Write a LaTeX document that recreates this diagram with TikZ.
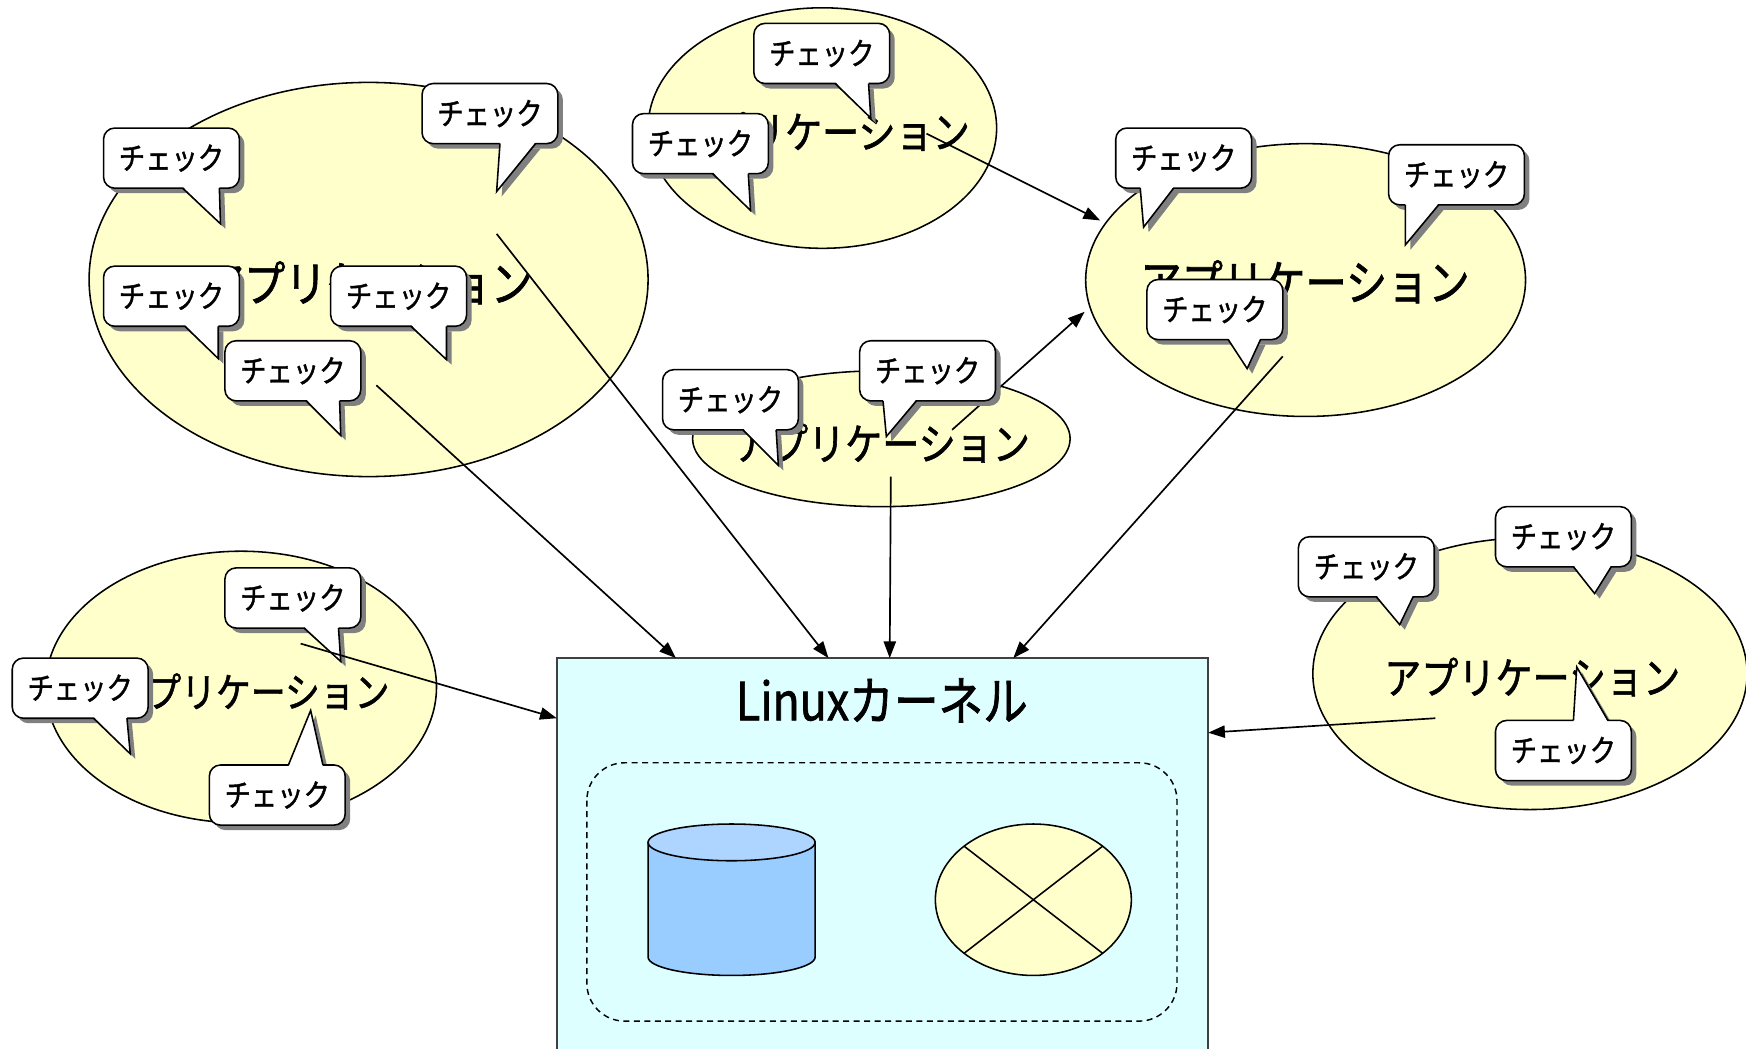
\documentclass[tikz,border=0pt]{standalone}
\usepackage{fontspec}
\newfontfamily\jpfont[FakeStretch=0.85,FakeBold=1.3]{Noto Sans CJK JP}
\usetikzlibrary{arrows.meta}
\definecolor{appfill}{HTML}{FFFFCC}
\definecolor{kernfill}{HTML}{DEFFFF}
\definecolor{cylbody}{HTML}{99CCFF}
\definecolor{cyltop}{HTML}{ADD5FF}
\definecolor{shadowgray}{HTML}{808080}
\definecolor{kernborder}{HTML}{404040}
\tikzset{
  app/.style={draw=black, fill=appfill, line width=0.7pt},
  appL/.style={inner sep=0pt, font={\jpfont\fontsize{21.8}{25}\selectfont}},
  appM/.style={inner sep=0pt, font={\jpfont\fontsize{19.6}{23}\selectfont}},
  appS/.style={inner sep=0pt, font={\jpfont\fontsize{18.4}{21}\selectfont}},
  kerntext/.style={inner sep=0pt, font={\jpfont\fontsize{23.6}{27}\selectfont}},
  chk/.style={inner sep=0pt, font={\jpfont\fontsize{13.9}{16}\selectfont}},
  bubbox/.style={draw=black, fill=white, line width=0.7pt, rounded corners=5pt},
  bubline/.style={draw=black, line width=0.7pt, line join=miter},
  shade/.style={fill=shadowgray},
  kernelbox/.style={draw=kernborder, fill=kernfill, line width=0.75pt},
  dashbox/.style={draw=black, dash pattern=on 2.7pt off 2pt, line width=0.65pt, rounded corners=17pt},
  cyl/.style={draw=black, line width=0.7pt},
  arr/.style={draw=black, line width=0.75pt, -{Triangle[length=7.5pt,width=5.5pt]}},
}
% bubble with tail at the bottom: name, left x, top y, tail base x1, x2, tip x, tip y
\newcommand{\bubD}[7]{%
  \begin{scope}[shift={(4.5,4.5)}]
    \fill[shade, rounded corners=5pt] (#2,#3) rectangle ++(122,54);
    \fill[shade] (#4,#3+54) -- (#5,#3+54) -- (#6,#7) -- cycle;
  \end{scope}
  \path[bubbox] (#2,#3) rectangle ++(122,54);
  \fill[white] (#4,#3+52.5) -- (#5,#3+52.5) -- (#6,#7) -- cycle;
  \draw[bubline] (#4,#3+54) -- (#6,#7) -- (#5,#3+54);
  \node[chk] (#1) at (#2+61,#3+27) {チェック};
}
% bubble with tail at the top
\newcommand{\bubU}[7]{%
  \begin{scope}[shift={(4.5,4.5)}]
    \fill[shade, rounded corners=5pt] (#2,#3) rectangle ++(122,54);
    \fill[shade] (#4,#3) -- (#5,#3) -- (#6,#7) -- cycle;
  \end{scope}
  \path[bubbox] (#2,#3) rectangle ++(122,54);
  \fill[white] (#4,#3+1.5) -- (#5,#3+1.5) -- (#6,#7) -- cycle;
  \draw[bubline] (#4,#3) -- (#6,#7) -- (#5,#3);
  \node[chk] (#1) at (#2+61,#3+27) {チェック};
}
\begin{document}
\begin{tikzpicture}[x=0.5pt, y=-0.5pt]
\useasboundingbox (0,0) rectangle (1568,942);
\clip (0,0) rectangle (1568,942);
\fill[white] (0,0) rectangle (1568,942);

% application ellipses
\draw[app] (331,251) ellipse [x radius=251, y radius=177];
\node[appL] (app1) at (330,254) {アプリケーション};
\draw[app] (738.5,115) ellipse [x radius=156.5, y radius=108];
\node[appM] (app2) at (738,118) {アプリケーション};
\draw[app] (1172.5,251.5) ellipse [x radius=197.5, y radius=122.5];
\node[appL] (app3) at (1172,253) {アプリケーション};
\draw[app] (791.5,394) ellipse [x radius=169.5, y radius=61];
\node[appM] (app4) at (792,398) {アプリケーション};
\draw[app] (216.5,617) ellipse [x radius=175.5, y radius=122];
\node[appS] (app5) at (225,621) {アプリケーション};
\draw[app] (1374,605) ellipse [x radius=195, y radius=122];
\node[appM] (app6) at (1376,608) {アプリケーション};

% kernel
\path[kernelbox] (500,591) rectangle (1085,980);
\node[kerntext] (kern) at (792,629) {Linuxカーネル};
\path[dashbox] (527,685) rectangle (1057,917);
% cylinder
\path[cyl, fill=cylbody] (582,756.5) -- (582,859.5) arc[start angle=180, end angle=0, x radius=75, y radius=16.5] -- (732,756.5) -- cycle;
\path[cyl, fill=cyltop] (657,756.5) ellipse [x radius=75, y radius=16.5];
% crossed ellipse
\path[cyl, fill=appfill] (928,808) ellipse [x radius=88, y radius=68];
\draw[cyl] (865.8,759.9) -- (990.2,856.1);
\draw[cyl] (990.2,759.9) -- (865.8,856.1);

% connector end points
\coordinate (s1) at (832,120);  \coordinate (t1) at (988,198);
\coordinate (s2) at (855,386);  \coordinate (t2) at (974,280);
\coordinate (s3) at (338,346);  \coordinate (t3) at (607,591);
\coordinate (s4) at (446,210);  \coordinate (t4) at (744,591);
\coordinate (s5) at (800,428);  \coordinate (t5) at (799,591);
\coordinate (s6) at (1152,320); \coordinate (t6) at (910,591);
\coordinate (s7) at (270,578);  \coordinate (t7) at (500,645);
\coordinate (s8) at (1289,645); \coordinate (t8) at (1085,658);

\draw[arr] (s1) -- (t1);
\draw[arr] (s2) -- (t2);
\draw[arr] (s3) -- (t3);
\draw[arr] (s4) -- (t4);
\draw[arr] (s5) -- (t5);
\draw[arr] (s6) -- (t6);
\draw[arr] (s8) -- (t8);

% speech bubbles
\bubD{b1}{93}{115}{164}{197}{198}{201}
\bubD{b2}{379}{75}{449}{481}{446}{172}
\bubD{b3}{93}{239}{166}{196}{196}{322}
\bubD{b4}{297}{239}{369}{401}{401}{323}
\bubD{b5}{202}{306}{275}{305}{306}{391}
\bubD{c1}{677}{21}{750}{780}{782}{106}
\bubD{c2}{568}{102}{640}{672}{674}{189}
\bubD{d1}{1002}{115}{1024}{1054}{1027}{204}
\bubD{d2}{1247}{130}{1262}{1292}{1262}{220}
\bubD{d3}{1030}{251}{1103}{1132}{1120}{331}
\bubD{e1}{595}{332}{667}{697}{699}{418}
\bubD{e2}{772}{306}{793}{823}{796}{392}
\bubD{f1}{202}{510}{273}{304}{306}{594}
\bubD{f2}{11}{591}{84}{114}{117}{677}
\bubU{f3}{188}{687}{259}{290}{279}{638}
\bubD{g1}{1166}{482}{1236}{1269}{1257}{561}
\bubD{g2}{1343}{455}{1413}{1447}{1432}{533}
\bubU{g3}{1343}{647}{1413}{1444}{1416}{599}

\draw[arr] (s7) -- (t7);
\end{tikzpicture}
\end{document}
